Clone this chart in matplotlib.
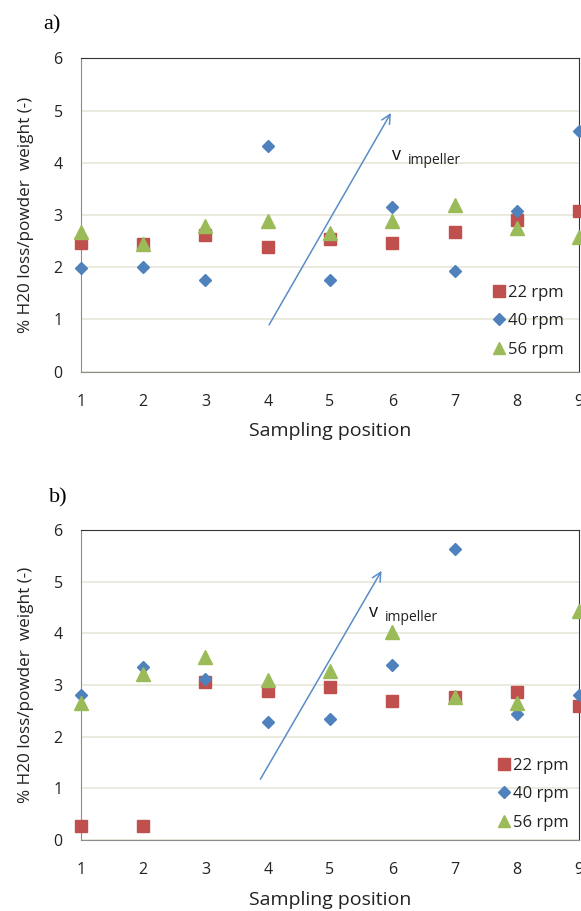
import numpy as np
import matplotlib
matplotlib.use('Agg')
from matplotlib import pyplot as plt

plt.rcParams['font.family'] = ['Open Sans', 'DejaVu Sans']

positions = [1, 2, 3, 4, 5, 6, 7, 8, 9]
speeds = ['22 rpm', '40 rpm', '56 rpm']

# panel a
a_22 = [2.47, 2.45, 2.61, 2.38, 2.54, 2.47, 2.67, 2.91, 3.08]
a_40 = [1.98, 2.01, 1.75, 4.32, 1.75, 3.16, 1.93, 3.08, 4.61]
a_56 = [2.67, 2.44, 2.79, 2.89, 2.65, 2.88, 3.20, 2.76, 2.57]

# panel b
b_22 = [0.27, 0.27, 3.06, 2.88, 2.97, 2.69, 2.77, 2.86, 2.59]
b_40 = [2.80, 3.35, 3.12, 2.28, 2.35, 3.38, 5.64, 2.44, 2.80]
b_56 = [2.66, 3.22, 3.54, 3.10, 3.28, 4.03, 2.77, 2.65, 4.43]

# arrow (tail, head) and label spot in data units
a_arrow = [(4.0, 0.85), (6.0, 5.0)]
b_arrow = [(3.86, 1.13), (5.85, 5.26)]
a_vlabel = (6.0, 4.05)
b_vlabel = (5.63, 4.32)

red, blue, green = '#C0504D', '#4F81BD', '#9BBB59'

fig = plt.figure(figsize=(5.81, 9.11), dpi=100)

def panel(rect, d22, d40, d56, arrow, vlab, letter, letter_xy, legpad):
    ax = fig.add_axes(rect)
    ax.plot(positions, d22, ls='none', marker='s', ms=9, color=red, mec=red, clip_on=False, zorder=3, label=speeds[0])
    ax.plot(positions, d40, ls='none', marker='D', ms=6.5, color=blue, mec=blue, clip_on=False, zorder=3, label=speeds[1])
    ax.plot(positions, d56, ls='none', marker='^', ms=10, color=green, mec=green, clip_on=False, zorder=3, label=speeds[2])
    ax.set_xlim(1, 9)
    ax.set_ylim(0, 6)
    ax.set_xticks(positions)
    ax.set_yticks(range(7))
    ax.yaxis.grid(True, color='#E6E6D8', lw=1.2)
    ax.set_axisbelow(True)
    ax.tick_params(length=0, labelsize=11.5, colors='#222222')
    ax.tick_params(axis='x', pad=16)
    ax.tick_params(axis='y', pad=13)
    for s in ['left', 'bottom']:
        ax.spines[s].set_color('#8C8C8C')
    for s in ['top', 'right']:
        ax.spines[s].set_color('#333333')
    ax.set_xlabel('Sampling position', fontsize=14, labelpad=9, color='#222222')
    ax.set_ylabel('% H20 loss/powder  weight (-)', fontsize=12.3, labelpad=14, color='#222222')
    ax.annotate('', xy=arrow[1], xytext=arrow[0],
                arrowprops=dict(arrowstyle='->', color='#5B8CC8', lw=1.1, mutation_scale=16))
    ax.text(vlab[0], vlab[1], 'v', fontsize=13, color='#111111')
    ax.annotate('impeller', xy=vlab, xytext=(11, -3), textcoords='offset points',
                fontsize=10, color='#222222')
    ax.legend(loc='lower right', bbox_to_anchor=(0.997, 0.0), frameon=False, fontsize=12,
              handlelength=0.8, handletextpad=0.1, labelspacing=0.75, borderaxespad=legpad,
              labelcolor='#222222', markerscale=0.9)
    fig.text(letter_xy[0], letter_xy[1], letter, fontsize=16, family='Liberation Serif')
    return ax

panel([0.139, 0.592, 0.858, 0.344], a_22, a_40, a_56, a_arrow, a_vlabel, 'a)', (0.074, 0.968), 0.45)
panel([0.139, 0.078, 0.858, 0.340], b_22, b_40, b_56, b_arrow, b_vlabel, 'b)', (0.085, 0.448), 0.15)

fig.savefig('out.png', dpi=100)
